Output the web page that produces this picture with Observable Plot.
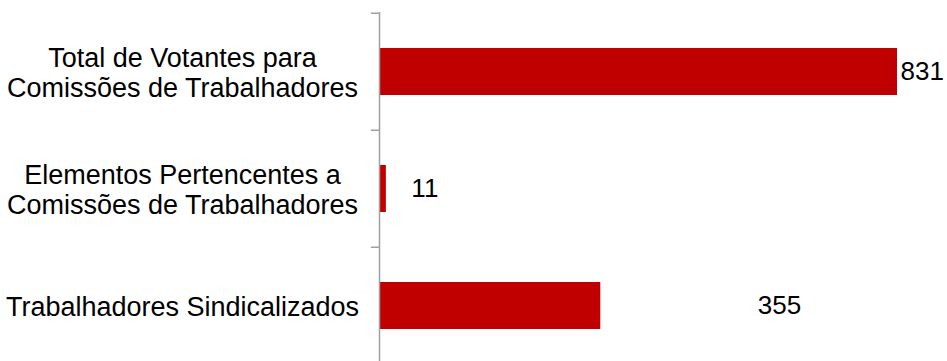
<!DOCTYPE html>
<html>
<head>
<meta charset="utf-8">
<script src="https://cdn.jsdelivr.net/npm/d3@7"></script>
<script src="https://cdn.jsdelivr.net/npm/@observablehq/plot@0.6"></script>
<style>
  html, body { margin: 0; padding: 0; background: #fff; }
  svg { display: block; }
</style>
</head>
<body>
<div id="chart"></div>
<script>
const categories = [
  "Total de Votantes para\nComissões de Trabalhadores",
  "Elementos Pertencentes a\nComissões de Trabalhadores",
  "Trabalhadores Sindicalizados"
];
const values = [831, 11, 355];
const valueLabels = ["831", "11", "355"];

const data = categories.map((c, i) => ({cat: c, value: values[i], label: valueLabels[i]}));

// per-label horizontal offsets (styling, as in the original Excel labels)
const labelDx = [3, 25, 157];

const step = 117.5;
const font = "Liberation Sans, Arial, sans-serif";

const chart = Plot.plot({
  width: 947,
  height: 361,
  marginLeft: 379,
  marginRight: 50,
  marginTop: 12,
  marginBottom: 0,
  style: {fontFamily: font, fontSize: "26px", color: "#000", background: "#fff"},
  x: {domain: [0, 831], axis: null},
  y: {domain: categories, range: [12, 364.5], paddingInner: 0.6, paddingOuter: 0.3, axis: null},
  marks: [
    Plot.barX(data, {x: "value", y: "cat", fill: "#c00000"}),
    Plot.ruleX([0], {stroke: "#a0a0a0", strokeWidth: 1.5}),
    Plot.ruleY(categories, {y: d => d, x1: -13, x2: 0, dy: -step / 2, stroke: "#a0a0a0", strokeWidth: 1.5}),
    Plot.axisY({
      tickSize: 0,
      tickPadding: 197,
      textAnchor: "middle",
      lineHeight: 1.11,
      fontSize: 27,
      fill: "#000",
      label: null
    }),
    ...data.map((d, i) => Plot.text([d], {
      x: "value", y: "cat", text: "label",
      textAnchor: "start", dx: labelDx[i],
      fontSize: 26, fill: "#000"
    }))
  ]
});
document.getElementById("chart").append(chart);
</script>
</body>
</html>
